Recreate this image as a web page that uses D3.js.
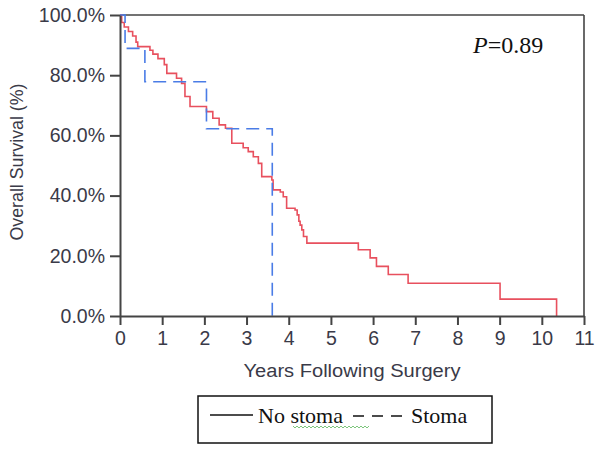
<!DOCTYPE html>
<html><head><meta charset="utf-8">
<script src="https://cdn.jsdelivr.net/npm/d3@7"></script>
<style>body{margin:0;background:#fff}</style>
</head><body>
<script>
const xTicks = [0,1,2,3,4,5,6,7,8,9,10,11];
const yTicks = [0,20,40,60,80,100];
const noStomaTime = [0,0.04,0.10,0.20,0.30,0.38,0.42,0.71,0.78,0.90,1.05,1.11,1.34,1.46,1.54,1.66,2.05,2.20,2.35,2.50,2.65,2.92,3.04,3.16,3.28,3.36,3.60,3.63,3.80,3.87,3.95,4.15,4.20,4.24,4.27,4.31,4.35,4.43,5.65,5.93,6.08,6.36,6.83,9.01,10.35];
const noStomaSurv = [100,97.5,96,94.5,93,91,89.5,88.3,87,85.5,83.5,80.6,79,77.3,72.9,69.6,67.9,65.7,63.5,62.4,57.4,55.9,54.6,52.9,50.7,46.3,45.2,41.9,41.2,39.6,35.8,35.2,33.6,31.5,30.2,28.6,26.4,24.2,22.0,19.3,16.5,13.8,10.9,5.6,0];
const stomaTime = [0,0.12,0.59,2.05,3.61];
const stomaSurv = [100,88.9,77.8,62.2,0];

const W=601,H=449;
const svg=d3.select("body").append("svg").attr("width",W).attr("height",H);
const x=d3.scaleLinear().domain([0,11]).range([120,584]);
const y=d3.scaleLinear().domain([0,100]).range([316,15]);
const axisColor="#444", textColor="#3a3a48";
const sans="Liberation Sans, Arial, sans-serif", serif="Liberation Serif, Times New Roman, serif";

svg.append("line").attr("x1",x(0)).attr("x2",x(11)).attr("y1",y(100)).attr("y2",y(100)).attr("stroke",axisColor).attr("stroke-width",1.6);
svg.append("line").attr("x1",x(11)).attr("x2",x(11)).attr("y1",y(100)).attr("y2",y(0)).attr("stroke",axisColor).attr("stroke-width",1.6);

const line=d3.line().x(d=>x(d[0])).y(d=>y(d[1])).curve(d3.curveStepAfter);
const ns=noStomaTime.map((t,i)=>[t,noStomaSurv[i]]);
const st=stomaTime.map((t,i)=>[t,stomaSurv[i]]);
svg.append("path").attr("d",line(ns)).attr("fill","none").attr("stroke","#e8505e").attr("stroke-width",1.6);
svg.append("path").attr("d",line(st)).attr("fill","none").attr("stroke","#4a7ce6").attr("stroke-width",1.6).attr("stroke-dasharray","13,7");

const gx=svg.append("g").attr("transform",`translate(0,${y(0)})`)
 .call(d3.axisBottom(x).tickValues(xTicks).tickSize(9).tickSizeOuter(0).tickPadding(6));
const gy=svg.append("g").attr("transform",`translate(${x(0)},0)`)
 .call(d3.axisLeft(y).tickValues(yTicks).tickSize(10).tickSizeOuter(0).tickPadding(5).tickFormat(d=>d.toFixed(1)+"%"));
[gx,gy].forEach(g=>{
  g.attr("font-size",null).attr("font-family",null);
  g.select(".domain").attr("stroke",axisColor).attr("stroke-width",2);
  g.selectAll(".tick line").attr("stroke",axisColor).attr("stroke-width",2);
  g.selectAll(".tick text").attr("fill",textColor).style("font-family",sans).style("font-size","19.5px");
});

svg.append("text").attr("x",352).attr("y",377).attr("text-anchor","middle")
 .style("font-family",sans).style("font-size","18px").attr("fill",textColor)
 .attr("textLength",217).attr("lengthAdjust","spacingAndGlyphs").text("Years Following Surgery");
svg.append("text").attr("transform","translate(23,162) rotate(-90)").attr("text-anchor","middle")
 .style("font-family",sans).style("font-size","18px").attr("fill",textColor)
 .attr("textLength",157).attr("lengthAdjust","spacingAndGlyphs").text("Overall Survival (%)");

const pt=svg.append("text").attr("x",473).attr("y",53).style("font-family",serif).style("font-size","24px").attr("fill","#111");
pt.append("tspan").attr("font-style","italic").text("P");
pt.append("tspan").text("=0.89");

// legend
svg.append("rect").attr("x",198).attr("y",396).attr("width",294).attr("height",47).attr("fill","#fff").attr("stroke","#111").attr("stroke-width",1.5);
svg.append("line").attr("x1",210).attr("x2",253).attr("y1",415).attr("y2",415).attr("stroke","#111").attr("stroke-width",1.3);
svg.append("text").attr("x",258).attr("y",423).style("font-family",serif).style("font-size","22px").attr("fill","#111").text("No stoma");
svg.append("path").attr("d","M293,426"+d3.range(0,38).map(i=>"L"+(295+i*2)+","+(i%2?426:428)).join("")).attr("fill","none").attr("stroke","#5cb85c").attr("stroke-width",0.8);
svg.append("line").attr("x1",353).attr("x2",403).attr("y1",416).attr("y2",416).attr("stroke","#111").attr("stroke-width",1.3).attr("stroke-dasharray","11,8");
svg.append("text").attr("x",411).attr("y",423).style("font-family",serif).style("font-size","22px").attr("fill","#111").text("Stoma");
</script>
</body></html>
